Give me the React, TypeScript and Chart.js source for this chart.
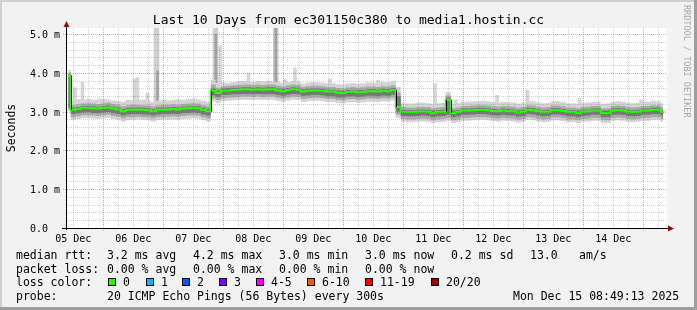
import React, { useEffect, useRef } from 'react';
import { Chart, registerables } from 'chart.js';

Chart.register(...registerables);

// ---------------- text ----------------
const TITLE = 'Last 10 Days from ec301150c380 to media1.hostin.cc';
const Y_TITLE = 'Seconds';
const WATERMARK = 'RRDTOOL / TOBI OETIKER';
const DAY_LABELS = ['05 Dec', '06 Dec', '07 Dec', '08 Dec', '09 Dec', '10 Dec', '11 Dec', '12 Dec', '13 Dec', '14 Dec'];
const DAY_LABEL_HOURS = [12, 36, 60, 84, 108, 132, 156, 180, 204, 228]; // hours since 05 Dec 00:00
const Y_TICKS = [0, 1, 2, 3, 4, 5];
const Y_TICK_LABELS = ['0.0', '1.0 m', '2.0 m', '3.0 m', '4.0 m', '5.0 m'];

const RTT_ROW = ['median rtt:', '3.2 ms avg', '4.2 ms max', '3.0 ms min', '3.0 ms now', '0.2 ms sd', '13.0', 'am/s'];
const LOSS_ROW = ['packet loss:', '0.00 % avg', '0.00 % max', '0.00 % min', '0.00 % now'];
const LOSS_COLOR_TITLE = 'loss color:';
const LOSS_LABELS = ['0', '1', '2', '3', '4-5', '6-10', '11-19', '20/20'];
const LOSS_COLORS = ['#26ff00', '#00b8ff', '#0059ff', '#7e00ff', '#ff00ff', '#ff5500', '#ff0000', '#a10000'];
const PROBE_ROW = ['probe:', '20 ICMP Echo Pings (56 Bytes) every 300s', 'Mon Dec 15 08:49:13 2025'];

// ---------------- axes ----------------
const X_MIN = 9.5;   // hours since 05 Dec 00:00
const X_MAX = 249.5;
const Y_MIN = 0;
const Y_MAX = 5.16;  // ms
const SAMPLE_START = 10; // first sample, hours
const SAMPLE_STEP = 2;   // hours between samples

// ---------------- series (ms) ----------------
const MEDIAN = [
  3.93, 3.05, 3.07, 3.10, 3.10, 3.09, 3.08, 3.10, 3.11, 3.08,
  3.06, 3.01, 3.05, 3.05, 3.06, 3.05, 3.04, 3.01, 3.05, 3.05,
  3.06, 3.07, 3.06, 3.08, 3.09, 3.10, 3.09, 3.05, 3.01, 3.54,
  3.48, 3.54, 3.55, 3.56, 3.57, 3.58, 3.58, 3.57, 3.58, 3.57,
  3.58, 3.58, 3.55, 3.53, 3.56, 3.58, 3.57, 3.52, 3.54, 3.55,
  3.55, 3.54, 3.52, 3.52, 3.49, 3.48, 3.51, 3.52, 3.50, 3.51,
  3.53, 3.53, 3.52, 3.54, 3.53, 3.56, 3.12, 3.00, 2.99, 2.99,
  3.00, 3.01, 3.00, 2.97, 2.99, 3.00, 3.30, 2.97, 2.99, 3.03,
  3.03, 3.04, 3.05, 3.05, 3.04, 3.02, 3.01, 3.03, 3.02, 3.01,
  2.98, 3.00, 3.05, 3.04, 3.01, 2.99, 3.00, 3.04, 3.04, 3.02,
  2.99, 2.99, 2.97, 3.00, 3.01, 3.03, 3.03, 2.97, 2.97, 3.03,
  3.04, 3.03, 3.00, 2.99, 3.00, 3.03, 3.03, 3.05, 3.05, 3.00,
];
const DARK_HI = [
  3.96, 3.10, 3.12, 3.15, 3.15, 3.14, 3.13, 3.15, 3.16, 3.13,
  3.11, 3.07, 3.10, 3.10, 3.11, 3.10, 3.09, 3.07, 3.10, 3.10,
  3.11, 3.12, 3.11, 3.13, 3.14, 3.15, 3.14, 3.10, 3.07, 3.60,
  3.55, 3.60, 3.61, 3.62, 3.62, 3.63, 3.63, 3.62, 3.63, 3.62,
  3.63, 3.63, 3.60, 3.59, 3.61, 3.63, 3.62, 3.58, 3.59, 3.60,
  3.60, 3.59, 3.57, 3.57, 3.55, 3.54, 3.56, 3.57, 3.56, 3.56,
  3.58, 3.58, 3.57, 3.59, 3.58, 3.61, 3.40, 3.05, 3.04, 3.04,
  3.05, 3.06, 3.05, 3.03, 3.04, 3.05, 3.36, 3.03, 3.04, 3.08,
  3.08, 3.09, 3.10, 3.10, 3.09, 3.07, 3.06, 3.08, 3.07, 3.06,
  3.04, 3.05, 3.10, 3.09, 3.06, 3.04, 3.05, 3.09, 3.09, 3.07,
  3.04, 3.04, 3.03, 3.05, 3.06, 3.08, 3.08, 3.03, 3.03, 3.08,
  3.09, 3.08, 3.05, 3.04, 3.05, 3.08, 3.08, 3.10, 3.10, 3.05,
];
const DARK_LO = [
  3.10, 2.94, 2.96, 2.98, 2.99, 2.97, 2.96, 2.98, 2.99, 2.96,
  2.94, 2.90, 2.93, 2.94, 2.94, 2.93, 2.92, 2.90, 2.93, 2.94,
  2.94, 2.95, 2.94, 2.96, 2.97, 2.98, 2.97, 2.93, 2.90, 3.42,
  3.38, 3.43, 3.44, 3.45, 3.45, 3.46, 3.46, 3.45, 3.46, 3.45,
  3.46, 3.46, 3.43, 3.41, 3.44, 3.46, 3.45, 3.41, 3.42, 3.43,
  3.43, 3.42, 3.40, 3.40, 3.37, 3.37, 3.39, 3.40, 3.38, 3.39,
  3.41, 3.41, 3.40, 3.42, 3.41, 3.44, 3.00, 2.89, 2.88, 2.88,
  2.89, 2.90, 2.89, 2.86, 2.88, 2.89, 2.92, 2.86, 2.88, 2.92,
  2.92, 2.93, 2.94, 2.94, 2.93, 2.91, 2.90, 2.92, 2.91, 2.90,
  2.87, 2.89, 2.94, 2.93, 2.90, 2.88, 2.89, 2.93, 2.93, 2.91,
  2.88, 2.88, 2.86, 2.89, 2.90, 2.92, 2.92, 2.86, 2.86, 2.92,
  2.93, 2.92, 2.89, 2.88, 2.89, 2.92, 2.92, 2.94, 2.94, 2.89,
];
const MID_HI = [
  4.02, 3.17, 3.19, 3.21, 3.22, 3.21, 3.20, 3.22, 3.23, 3.20,
  3.18, 3.14, 3.17, 3.18, 3.18, 3.17, 3.16, 3.14, 3.17, 3.18,
  3.18, 3.19, 3.18, 3.20, 3.21, 3.22, 3.21, 3.17, 3.14, 3.70,
  3.62, 3.66, 3.67, 3.68, 3.69, 3.70, 3.70, 3.69, 3.70, 3.69,
  3.70, 3.70, 3.67, 3.65, 3.68, 3.70, 3.69, 3.64, 3.66, 3.67,
  3.67, 3.66, 3.64, 3.64, 3.61, 3.60, 3.63, 3.64, 3.62, 3.63,
  3.65, 3.65, 3.64, 3.66, 3.65, 3.68, 3.50, 3.12, 3.11, 3.11,
  3.12, 3.13, 3.12, 3.09, 3.11, 3.12, 3.42, 3.09, 3.11, 3.15,
  3.15, 3.16, 3.17, 3.17, 3.16, 3.14, 3.13, 3.15, 3.14, 3.13,
  3.10, 3.12, 3.17, 3.16, 3.13, 3.11, 3.12, 3.16, 3.16, 3.14,
  3.11, 3.11, 3.09, 3.12, 3.13, 3.15, 3.15, 3.09, 3.09, 3.15,
  3.16, 3.15, 3.12, 3.11, 3.12, 3.15, 3.15, 3.17, 3.17, 3.12,
];
const MID_LO = [
  3.05, 2.86, 2.88, 2.91, 2.91, 2.90, 2.89, 2.91, 2.92, 2.89,
  2.87, 2.83, 2.86, 2.86, 2.87, 2.86, 2.85, 2.83, 2.86, 2.86,
  2.87, 2.88, 2.87, 2.89, 2.90, 2.91, 2.90, 2.86, 2.83, 3.34,
  3.30, 3.35, 3.36, 3.37, 3.38, 3.39, 3.39, 3.38, 3.39, 3.38,
  3.39, 3.39, 3.36, 3.34, 3.37, 3.39, 3.38, 3.33, 3.35, 3.36,
  3.36, 3.35, 3.33, 3.33, 3.30, 3.29, 3.32, 3.33, 3.31, 3.32,
  3.34, 3.34, 3.33, 3.35, 3.34, 3.37, 2.92, 2.81, 2.80, 2.80,
  2.81, 2.82, 2.81, 2.78, 2.80, 2.81, 2.84, 2.78, 2.80, 2.84,
  2.84, 2.85, 2.86, 2.86, 2.85, 2.83, 2.82, 2.84, 2.83, 2.82,
  2.79, 2.81, 2.86, 2.85, 2.82, 2.80, 2.81, 2.85, 2.85, 2.83,
  2.80, 2.80, 2.78, 2.81, 2.82, 2.84, 2.84, 2.78, 2.78, 2.84,
  2.85, 2.84, 2.81, 2.80, 2.81, 2.84, 2.84, 2.86, 2.86, 2.81,
];
const OUTER_HI = [
  4.08, 3.28, 3.32, 3.30, 3.33, 3.31, 3.30, 3.33, 3.32, 3.29,
  3.28, 3.25, 3.30, 3.29, 3.31, 3.30, 3.28, 3.25, 3.29, 3.31,
  3.29, 3.30, 3.32, 3.31, 3.33, 3.34, 3.32, 3.28, 3.26, 3.82,
  3.74, 3.76, 3.75, 3.77, 3.78, 3.79, 3.78, 3.77, 3.79, 3.78,
  3.79, 3.78, 3.76, 3.74, 3.77, 3.79, 3.78, 3.73, 3.75, 3.77,
  3.76, 3.75, 3.73, 3.74, 3.71, 3.70, 3.73, 3.74, 3.72, 3.73,
  3.76, 3.75, 3.74, 3.77, 3.76, 3.80, 3.64, 3.22, 3.21, 3.21,
  3.23, 3.24, 3.22, 3.20, 3.22, 3.23, 3.50, 3.20, 3.22, 3.26,
  3.26, 3.27, 3.27, 3.28, 3.27, 3.25, 3.24, 3.26, 3.25, 3.24,
  3.21, 3.23, 3.28, 3.27, 3.24, 3.22, 3.23, 3.27, 3.27, 3.25,
  3.22, 3.22, 3.20, 3.23, 3.24, 3.26, 3.26, 3.20, 3.21, 3.26,
  3.27, 3.26, 3.23, 3.22, 3.23, 3.26, 3.26, 3.28, 3.27, 3.23,
];
const OUTER_LO = [
  3.02, 2.79, 2.81, 2.83, 2.84, 2.82, 2.81, 2.83, 2.84, 2.81,
  2.79, 2.75, 2.78, 2.79, 2.80, 2.79, 2.78, 2.75, 2.78, 2.79,
  2.79, 2.80, 2.79, 2.81, 2.82, 2.83, 2.82, 2.78, 2.75, 3.26,
  3.22, 3.27, 3.28, 3.29, 3.30, 3.31, 3.31, 3.30, 3.31, 3.30,
  3.31, 3.31, 3.28, 3.26, 3.29, 3.31, 3.30, 3.25, 3.27, 3.28,
  3.28, 3.27, 3.25, 3.25, 3.22, 3.21, 3.24, 3.25, 3.23, 3.24,
  3.26, 3.26, 3.25, 3.27, 3.26, 3.29, 2.84, 2.74, 2.73, 2.73,
  2.74, 2.75, 2.74, 2.71, 2.73, 2.74, 2.77, 2.71, 2.73, 2.77,
  2.77, 2.78, 2.79, 2.79, 2.78, 2.76, 2.75, 2.77, 2.76, 2.75,
  2.72, 2.74, 2.79, 2.78, 2.75, 2.73, 2.74, 2.78, 2.78, 2.76,
  2.73, 2.73, 2.71, 2.74, 2.75, 2.77, 2.77, 2.71, 2.71, 2.77,
  2.78, 2.77, 2.74, 2.73, 2.74, 2.77, 2.77, 2.79, 2.79, 2.74,
];

// isolated high pings (light smoke spikes)
const SPIKE_HOURS = [12.7, 15.7, 22.3, 36.5, 37.7, 41.7, 70.7, 82.1, 96.7, 100.7, 114.7, 127.1, 133.9, 156.7, 161.7, 165.1, 181.5, 193.7, 205.1, 214.5, 239.1];
const SPIKE_LOW = [3.10, 3.10, 3.10, 3.10, 3.10, 3.10, 3.60, 3.60, 3.60, 3.60, 3.60, 3.60, 3.60, 3.05, 3.05, 3.05, 3.05, 3.05, 3.05, 3.05, 3.05];
const SPIKE_HIGH = [3.62, 3.76, 3.33, 3.85, 3.88, 3.49, 4.70, 4.00, 3.83, 4.13, 3.85, 3.72, 3.81, 3.73, 3.50, 3.31, 3.42, 3.55, 3.27, 3.35, 3.30];
// spikes going off the top
const TALL_HOURS = [45.3, 68.9, 93.0];
const TALL_LOW = [3.10, 3.60, 3.60];
const TALL_HIGH = [5.16, 5.16, 5.16];
const CORE_HOURS = [45.7, 69.0, 93.0];
const CORE_LOW = [3.15, 3.62, 3.62];
const CORE_HIGH = [4.05, 5.00, 5.16];

// ---------------- layout / style ----------------
const W = 697;
const H = 310;
const FONT = '"DejaVu Sans Mono", "Liberation Mono", monospace';
const LEGEND_FONT = `11.5px ${FONT}`;
const ROW_Y = [259, 272.5, 286, 299.5];
const RTT_X = [16, 107, 193, 279, 365, 451, 530, 579];
const LOSS_X = [16, 107, 193, 279, 365];
const SQUARE_X = [108, 146, 182, 219, 256, 307, 365, 431];
const PROBE_X = [16, 107, 513];

const hours = MEDIAN.map((_, i) => SAMPLE_START + i * SAMPLE_STEP);
const pts = (arr: number[]) => arr.map((v, i) => ({ x: hours[i], y: v }));
const bars = (hs: number[], lo: number[], hi: number[]) => hs.map((h, i) => ({ x: h, y: [lo[i], hi[i]] }));

const bandLine = (data: number[], order: number, fill: any, color: string) => ({
  type: 'line',
  data: pts(data),
  stepped: 'middle',
  borderColor: 'rgba(0,0,0,0)',
  borderWidth: 0,
  pointRadius: 0,
  backgroundColor: color,
  fill,
  order,
});

const decorPlugin = {
  id: 'rrdDecor',
  beforeDraw(chart: any) {
    const ctx = chart.ctx;
    const a = chart.chartArea;
    ctx.save();
    ctx.fillStyle = '#f2f2f2';
    ctx.fillRect(0, 0, W, H);
    ctx.fillStyle = '#cfcfcf';
    ctx.fillRect(0, 0, W, 2);
    ctx.fillRect(0, 0, 2, H);
    ctx.fillStyle = '#9e9e9e';
    ctx.fillRect(0, H - 3, W, 3);
    ctx.fillRect(W - 3, 0, 3, H);
    ctx.fillStyle = '#ffffff';
    ctx.fillRect(a.left, a.top, a.right - a.left, a.bottom - a.top);
    ctx.restore();
  },
  afterDatasetsDraw(chart: any) {
    const ctx = chart.ctx;
    const a = chart.chartArea;
    const xs = chart.scales.x;
    const ys = chart.scales.y;
    ctx.save();

    // grid
    ctx.lineWidth = 1;
    ctx.setLineDash([1, 1]);
    for (let k = 1; k * 0.2 <= Y_MAX + 1e-9; k++) {
      const v = k * 0.2;
      const major = k % 5 === 0;
      const py = Math.round(ys.getPixelForValue(v)) + 0.5;
      ctx.strokeStyle = major ? 'rgba(222,80,80,0.55)' : 'rgba(130,130,130,0.35)';
      ctx.beginPath();
      ctx.moveTo(major ? a.left - 4 : a.left, py);
      ctx.lineTo(a.right, py);
      ctx.stroke();
    }
    for (let h = Math.ceil(X_MIN / 6) * 6; h <= X_MAX; h += 6) {
      const major = h % 24 === 0;
      const px = Math.round(xs.getPixelForValue(h)) + 0.5;
      ctx.strokeStyle = major ? 'rgba(222,80,80,0.55)' : 'rgba(130,130,130,0.35)';
      ctx.beginPath();
      ctx.moveTo(px, a.top);
      ctx.lineTo(px, major ? a.bottom + 3 : a.bottom);
      ctx.stroke();
    }
    ctx.setLineDash([]);

    // black connectors for large median jumps
    const medIdx = chart.data.datasets.findIndex((d: any) => d.label === 'median');
    const meta = chart.getDatasetMeta(medIdx);
    ctx.strokeStyle = '#000';
    ctx.lineWidth = 1;
    for (let i = 1; i < MEDIAN.length; i++) {
      if (Math.abs(MEDIAN[i] - MEDIAN[i - 1]) > 0.2) {
        const p0 = meta.data[i - 1];
        const p1 = meta.data[i];
        const px = Math.round((p0.x + p1.x) / 2) + 0.5;
        ctx.beginPath();
        ctx.moveTo(px, p0.y);
        ctx.lineTo(px, p1.y);
        ctx.stroke();
      }
    }

    // axes
    ctx.fillStyle = '#000';
    ctx.fillRect(a.left - 1, a.top - 2, 1, a.bottom - a.top + 4);
    ctx.fillRect(a.left - 5, a.bottom, a.right - a.left + 7, 1);
    ctx.fillStyle = '#8b1010';
    ctx.beginPath();
    ctx.moveTo(a.left - 0.5, a.top - 7);
    ctx.lineTo(a.left - 3.5, a.top - 1);
    ctx.lineTo(a.left + 2.5, a.top - 1);
    ctx.closePath();
    ctx.fill();
    ctx.beginPath();
    ctx.moveTo(a.right + 7, a.bottom + 0.5);
    ctx.lineTo(a.right + 1, a.bottom - 2.5);
    ctx.lineTo(a.right + 1, a.bottom + 3.5);
    ctx.closePath();
    ctx.fill();

    // tick labels
    ctx.fillStyle = '#000';
    ctx.font = `10px ${FONT}`;
    ctx.textBaseline = 'alphabetic';
    ctx.textAlign = 'left';
    Y_TICKS.forEach((v, i) => {
      const py = ys.getPixelForValue(v);
      ctx.fillText(Y_TICK_LABELS[i], 30, py + 3.8);
    });
    ctx.textAlign = 'center';
    DAY_LABEL_HOURS.forEach((h, i) => {
      ctx.fillText(DAY_LABELS[i], xs.getPixelForValue(h), 242);
    });

    // title
    ctx.font = `13px ${FONT}`;
    ctx.fillText(TITLE, W / 2, 24);

    // y title
    ctx.font = LEGEND_FONT;
    ctx.save();
    ctx.translate(15, (a.top + a.bottom) / 2);
    ctx.rotate(-Math.PI / 2);
    ctx.textAlign = 'center';
    ctx.fillText(Y_TITLE, 0, 0);
    ctx.restore();

    // watermark
    ctx.save();
    ctx.fillStyle = '#a8a8a8';
    ctx.font = `8.5px ${FONT}`;
    ctx.translate(684, 5);
    ctx.rotate(Math.PI / 2);
    ctx.textAlign = 'left';
    ctx.fillText(WATERMARK, 0, 0);
    ctx.restore();

    // legend
    ctx.font = LEGEND_FONT;
    ctx.textAlign = 'left';
    ctx.fillStyle = '#000';
    RTT_ROW.forEach((t, i) => ctx.fillText(t, RTT_X[i], ROW_Y[0]));
    LOSS_ROW.forEach((t, i) => ctx.fillText(t, LOSS_X[i], ROW_Y[1]));
    ctx.fillText(LOSS_COLOR_TITLE, 16, ROW_Y[2]);
    LOSS_LABELS.forEach((t, i) => {
      const sx = SQUARE_X[i];
      ctx.fillStyle = '#000';
      ctx.fillRect(sx, ROW_Y[2] - 8, 8, 8);
      ctx.fillStyle = LOSS_COLORS[i];
      ctx.fillRect(sx + 1, ROW_Y[2] - 7, 6, 6);
      ctx.fillStyle = '#000';
      ctx.fillText(t, sx + 15, ROW_Y[2]);
    });
    PROBE_ROW.forEach((t, i) => ctx.fillText(t, PROBE_X[i], ROW_Y[3]));

    ctx.restore();
  },
};

export default function App() {
  const ref = useRef<HTMLCanvasElement | null>(null);

  useEffect(() => {
    if (!ref.current) return;
    const datasets: any[] = [
      bandLine(OUTER_LO, 15, false, 'rgba(0,0,0,0)'),       // 0
      bandLine(OUTER_HI, 15, 0, '#d4d4d4'),                 // 1
      bandLine(MID_LO, 14, false, 'rgba(0,0,0,0)'),         // 2
      bandLine(MID_HI, 14, 2, '#a9a9a9'),                   // 3
      bandLine(DARK_LO, 13, false, 'rgba(0,0,0,0)'),        // 4
      bandLine(DARK_HI, 13, 4, '#777777'),                  // 5
      {
        type: 'line',
        label: 'median',
        data: pts(MEDIAN),
        stepped: 'middle',
        borderColor: '#26ff00',
        borderWidth: 2,
        pointRadius: 0,
        fill: false,
        order: 0,
      },
      {
        type: 'bar',
        data: bars(SPIKE_HOURS, SPIKE_LOW, SPIKE_HIGH),
        backgroundColor: '#d6d6d6',
        borderWidth: 0,
        barThickness: 3,
        grouped: false,
        clip: 0,
        order: 30,
      },
      {
        type: 'bar',
        data: bars(TALL_HOURS, TALL_LOW, TALL_HIGH),
        backgroundColor: '#cfcfcf',
        borderWidth: 0,
        barThickness: 5,
        grouped: false,
        clip: 0,
        order: 29,
      },
      {
        type: 'bar',
        data: bars(CORE_HOURS, CORE_LOW, CORE_HIGH),
        backgroundColor: '#a2a2a2',
        borderWidth: 0,
        barThickness: 2,
        grouped: false,
        clip: 0,
        order: 28,
      },
    ];

    const chart = new Chart(ref.current, {
      type: 'line',
      data: { datasets },
      options: {
        responsive: false,
        animation: false,
        devicePixelRatio: 1,
        events: [],
        layout: { padding: { left: 67, top: 28, right: W - 667, bottom: H - 228 } },
        scales: {
          x: { type: 'linear', min: X_MIN, max: X_MAX, display: false, offset: false },
          y: { type: 'linear', min: Y_MIN, max: Y_MAX, display: false },
        },
        plugins: { legend: { display: false }, tooltip: { enabled: false } },
      } as any,
      plugins: [decorPlugin as any],
    } as any);
    return () => chart.destroy();
  }, []);

  return (
    <div style={{ position: 'fixed', left: 0, top: 0, width: W, height: H }}>
      <canvas ref={ref} width={W} height={H} style={{ display: 'block', width: W, height: H }} />
    </div>
  );
}
